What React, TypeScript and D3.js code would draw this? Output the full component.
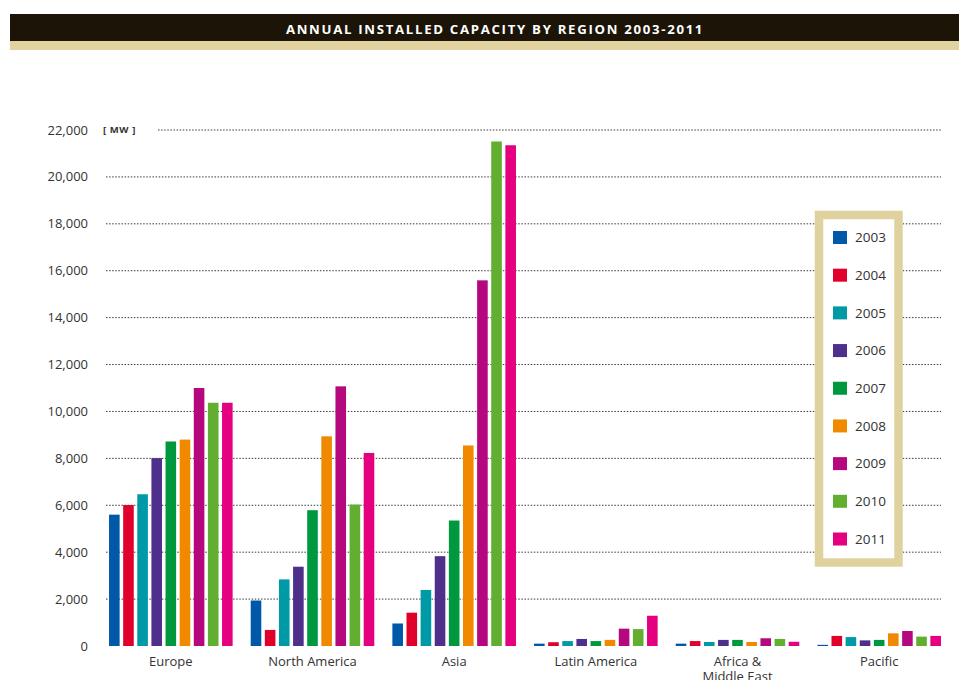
import React from "react";
import * as d3 from "d3";

const regions = ["Europe", "North America", "Asia", "Latin America", "Africa & Middle East", "Pacific"];
const regionLabels = [["Europe"], ["North America"], ["Asia"], ["Latin America"], ["Africa &", "Middle East"], ["Pacific"]];
const years = ["2003", "2004", "2005", "2006", "2007", "2008", "2009", "2010", "2011"];
const europe = [5600, 6010, 6470, 8010, 8720, 8800, 11000, 10370, 10370];
const northAmerica = [1940, 685, 2840, 3380, 5790, 8940, 11070, 6030, 8230];
const asia = [960, 1420, 2390, 3830, 5350, 8550, 15590, 21510, 21350];
const latinAmerica = [100, 160, 210, 300, 210, 260, 740, 720, 1290];
const africaMiddleEast = [100, 210, 170, 260, 260, 170, 330, 300, 180];
const pacific = [50, 430, 380, 240, 260, 540, 640, 400, 430];
const seriesByRegion = [europe, northAmerica, asia, latinAmerica, africaMiddleEast, pacific];
const yTicks = [0, 2000, 4000, 6000, 8000, 10000, 12000, 14000, 16000, 18000, 20000, 22000];
const colors = ["#0058a8", "#e0002b", "#0099a6", "#4e2f8b", "#00983f", "#f08800", "#b5087e", "#62ae30", "#e4007e"];
const title = "ANNUAL INSTALLED CAPACITY BY REGION 2003-2011";
const unit = "[ MW ]";

const W = 959;
const H = 680;
const FONT = "'Open Sans', 'Noto Sans', sans-serif";

export default function App() {
  const y = d3.scaleLinear().domain([0, 22000]).range([646, 130]);
  const x0 = d3.scaleBand<string>().domain(regions).range([100, 950]).padding(0);
  const x1 = d3.scaleBand<string>().domain(years).range([0, x0.bandwidth()]).paddingInner(0.25).paddingOuter(0.64);
  const fmt = d3.format(",");
  const gridX0 = 106;
  const gridX1 = 941;

  const legendY = d3.scalePoint<string>().domain(years).range([237.5, 539]);

  return (
    <svg width={W} height={H} style={{ position: "absolute", left: 0, top: 0, background: "#fff" }} fontFamily={FONT}>
      <rect x={0} y={0} width={W} height={H} fill="#fff" />
      {/* header */}
      <rect x={10} y={14} width={W - 10} height={27} fill="#1b1407" />
      <rect x={10} y={41} width={W - 10} height={9} fill="#e0d39f" />
      <text x={495} y={33.5} textAnchor="middle" fill="#fff" fontSize={13.2} fontWeight={700} letterSpacing={1.7}>
        {title}
      </text>

      {/* grid */}
      {yTicks.filter((t) => t > 0).map((t) => (
        <line
          key={t}
          x1={t === 22000 ? 158 : gridX0}
          x2={gridX1}
          y1={y(t)}
          y2={y(t)}
          stroke="#3a3a3a"
          strokeWidth={1}
          strokeDasharray="1.5,1.6"
        />
      ))}
      {yTicks.map((t) => (
        <text key={"l" + t} x={88} y={y(t)} dy="0.35em" textAnchor="end" fontSize={13} fill="#333">
          {fmt(t)}
        </text>
      ))}
      <text x={103} y={y(22000)} dy="0.35em" fontSize={9.5} fontWeight={700} fill="#333" letterSpacing={0.6}>
        {unit}
      </text>

      {/* bars */}
      {regions.map((r, ri) => (
        <g key={r} transform={`translate(${x0(r)},0)`}>
          {years.map((yr, yi) => {
            const v = seriesByRegion[ri][yi];
            return (
              <rect
                key={yr}
                x={x1(yr)}
                y={y(v)}
                width={x1.bandwidth()}
                height={y(0) - y(v)}
                fill={colors[yi]}
              />
            );
          })}
        </g>
      ))}

      {/* x labels */}
      {regions.map((r, ri) => (
        <text key={"x" + r} x={(x0(r) as number) + x0.bandwidth() / 2} y={666} textAnchor="middle" fontSize={13} fill="#333">
          {regionLabels[ri].map((line, li) => (
            <tspan key={li} x={(x0(r) as number) + x0.bandwidth() / 2} dy={li === 0 ? 0 : 15}>
              {line}
            </tspan>
          ))}
        </text>
      ))}

      {/* legend */}
      <rect x={819} y={215} width={79.5} height={347.5} fill="#fff" stroke="#dfd29e" strokeWidth={8.5} />
      {years.map((yr, i) => (
        <g key={"lg" + yr}>
          <rect x={833} y={(legendY(yr) as number) - 6.5} width={14} height={13} fill={colors[i]} />
          <text x={855} y={legendY(yr) as number} dy="0.36em" fontSize={13.5} fill="#333">
            {yr}
          </text>
        </g>
      ))}
    </svg>
  );
}
